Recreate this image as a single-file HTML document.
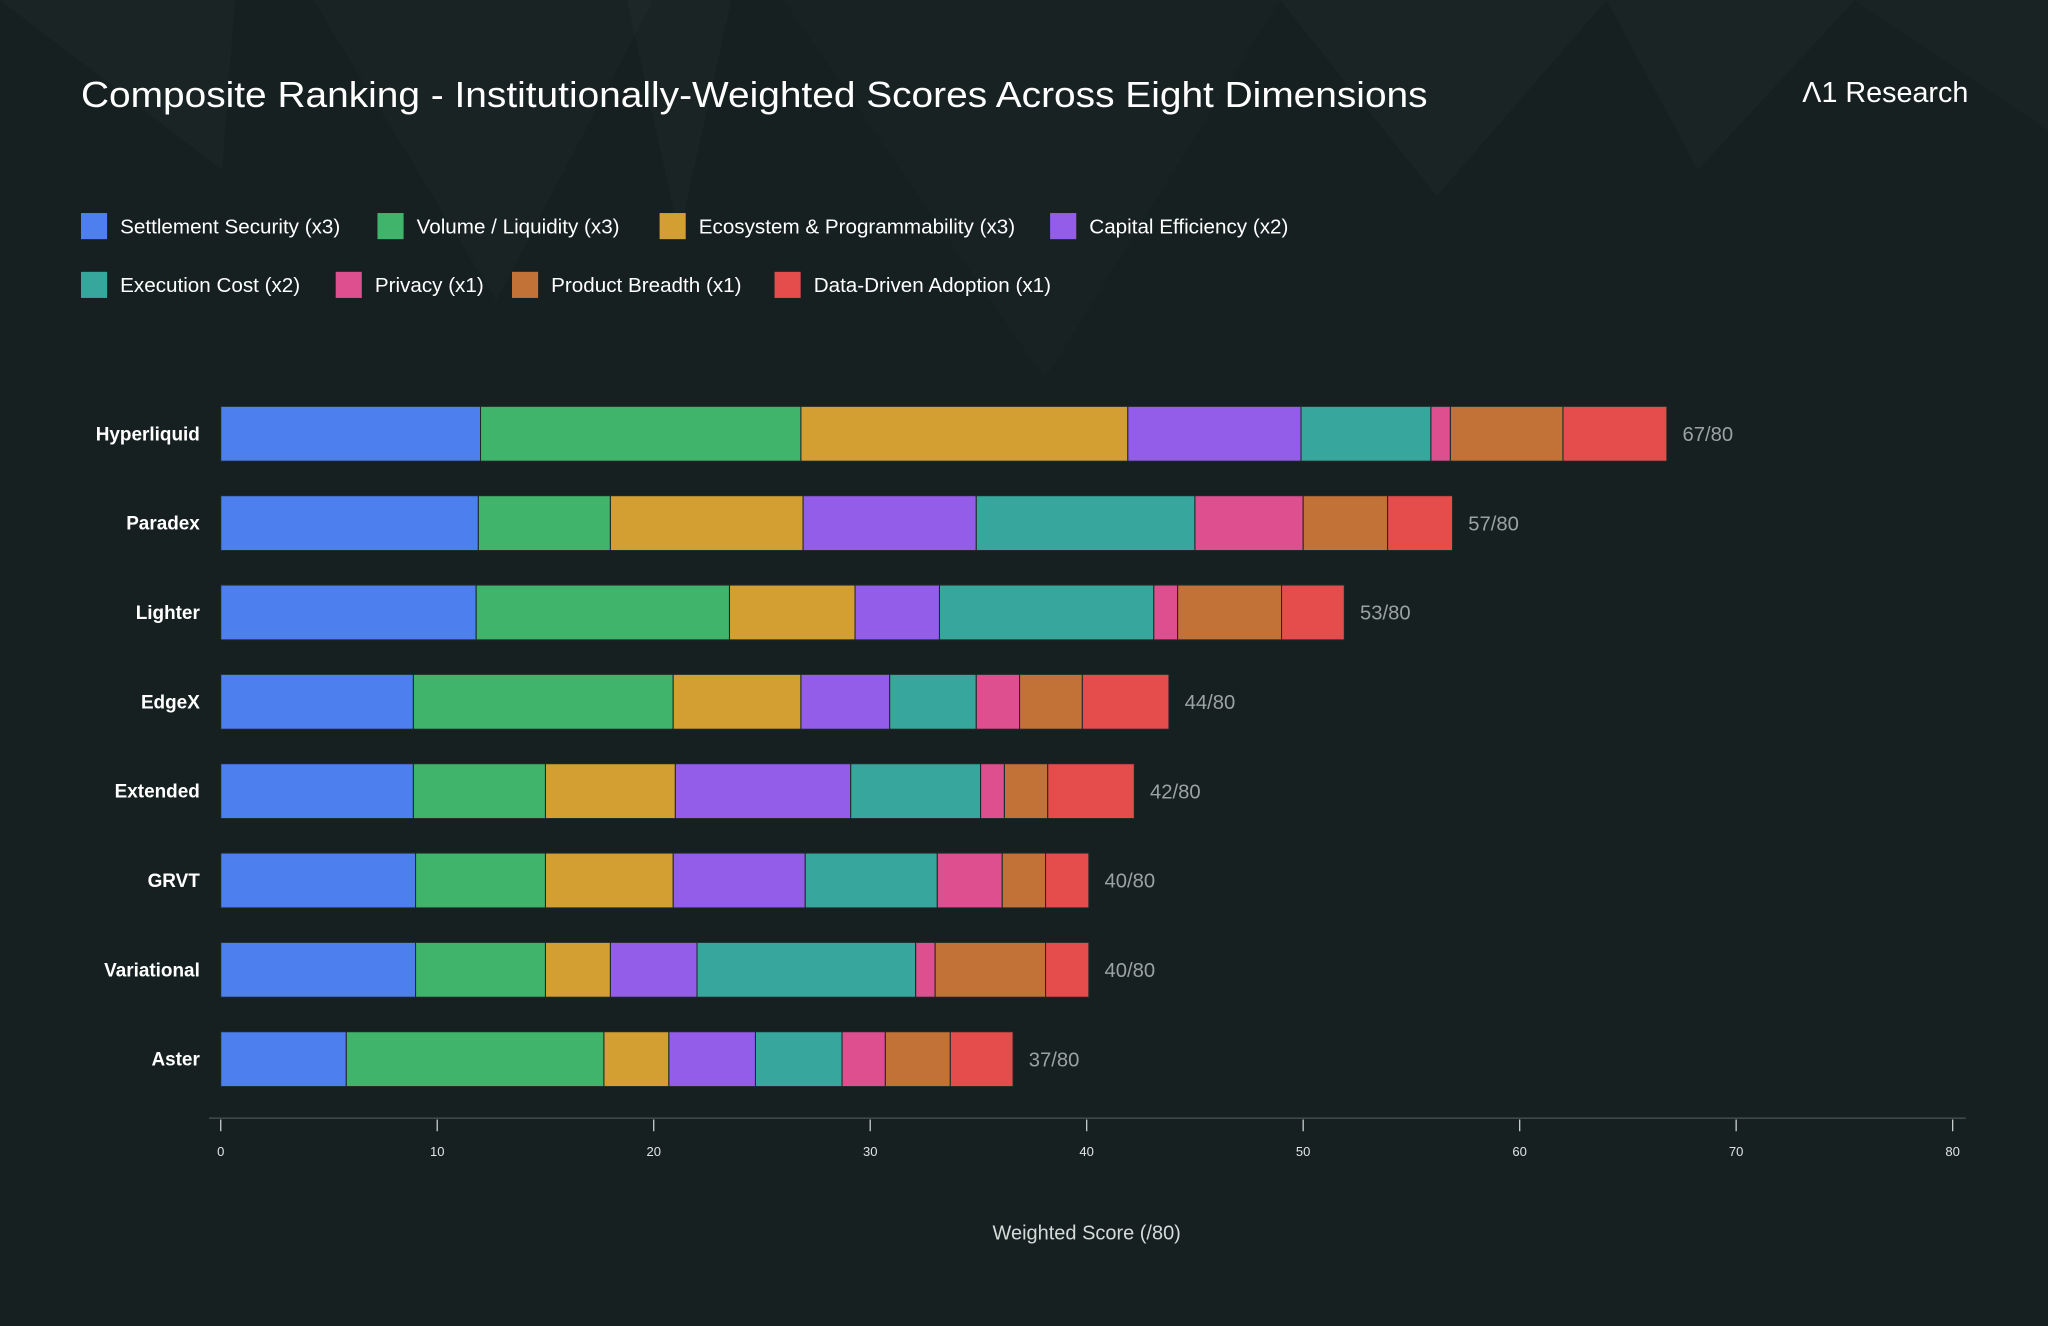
<!DOCTYPE html>
<html><head><meta charset="utf-8">
<style>
html,body{margin:0;padding:0;background:#162020;}
svg{display:block;font-family:"Liberation Sans",sans-serif;}
</style></head>
<body>
<svg id="chart" width="2048" height="1326" viewBox="0 0 1568 1015" xmlns="http://www.w3.org/2000/svg">
  <rect x="0" y="0" width="1568" height="1015" fill="#162020"/>
  <g fill="#ffffff">
    <polygon points="0,0 180,0 170,130" opacity="0.018"/>
    <polygon points="240,0 500,0 380,230" opacity="0.015"/>
    <polygon points="480,0 560,0 520,180" opacity="0.02"/>
    <polygon points="600,0 980,0 800,290" opacity="0.013"/>
    <polygon points="980,0 1230,0 1100,150" opacity="0.018"/>
    <polygon points="1230,0 1420,0 1300,130" opacity="0.02"/>
    <polygon points="1420,0 1568,0 1568,100" opacity="0.015"/>
  </g>
  <text x="62" y="82" font-size="28" fill="#ffffff" textLength="1031" lengthAdjust="spacingAndGlyphs">Composite Ranking - Institutionally-Weighted Scores Across Eight Dimensions</text>
  <text x="1507" y="78" font-size="22" fill="#ffffff" text-anchor="end">Λ1 Research</text>
  <g id="legend"></g>
  <g id="plot"></g>
</svg>
<script>
const platforms = ["Hyperliquid","Paradex","Lighter","EdgeX","Extended","GRVT","Variational","Aster"];
const seriesNames = ["Settlement Security (x3)","Volume / Liquidity (x3)","Ecosystem & Programmability (x3)","Capital Efficiency (x2)","Execution Cost (x2)","Privacy (x1)","Product Breadth (x1)","Data-Driven Adoption (x1)"];
const settlement = [12.0,11.9,11.8,8.9,8.9,9.0,9.0,5.8];
const volume = [14.8,6.1,11.7,12.0,6.1,6.0,6.0,11.9];
const ecosystem = [15.1,8.9,5.8,5.9,6.0,5.9,3.0,3.0];
const capital = [8.0,8.0,3.9,4.1,8.1,6.1,4.0,4.0];
const execution = [6.0,10.1,9.9,4.0,6.0,6.1,10.1,4.0];
const privacy = [0.9,5.0,1.1,2.0,1.1,3.0,0.9,2.0];
const breadth = [5.2,3.9,4.8,2.9,2.0,2.0,5.1,3.0];
const adoption = [4.8,3.0,2.9,4.0,4.0,2.0,2.0,2.9];
const totals = ["67/80","57/80","53/80","44/80","42/80","40/80","40/80","37/80"];
const ticks = [0,10,20,30,40,50,60,70,80];

const series = [settlement,volume,ecosystem,capital,execution,privacy,breadth,adoption];
const colors = ["#4d7fee","#41b46c","#d39e32","#945de9","#37a69c","#dd4f8f","#c27237","#e54d4d"];
const segNames = ["settlement","volume","ecosystem","capital","execution","privacy","breadth","adoption"];
const NS = "http://www.w3.org/2000/svg";
const x0 = 169, x1 = 1495, xMax = 80;
const xs = v => x0 + (x1 - x0) * v / xMax;
const yTop = 311, rowStep = 68.4, barH = 42;
const yc = i => yTop + barH/2 + i*rowStep;
function mk(tag, attrs, parent){const e=document.createElementNS(NS,tag);for(const k in attrs)e.setAttribute(k,attrs[k]);parent.appendChild(e);return e;}

const legend = document.getElementById('legend');
const legPos = [[62,173],[289,173],[505,173],[804,173],[62,218],[257,218],[392,218],[593,218]];
seriesNames.forEach((n,i)=>{
  const g = mk('g',{},legend);
  
  
  const r = mk('rect',{x:legPos[i][0],y:legPos[i][1]-10,width:20,height:20,fill:colors[i]},g);
  
  
  const t = mk('text',{x:legPos[i][0]+30,y:legPos[i][1]+5.5,'font-size':15.8,fill:'#ffffff'},g);
  
  
  t.textContent = n;
});

const plot = document.getElementById('plot');
platforms.forEach((p,i)=>{
  const lab = mk('text',{x:153,y:yc(i)+5,'font-size':14.5,'font-weight':'bold',fill:'#ffffff','text-anchor':'end'},plot);
  
  
  lab.textContent = p;
  let cum = 0;
  series.forEach((s,k)=>{
    const r = mk('rect',{x:xs(cum),y:yc(i)-barH/2,width:xs(cum+s[i])-xs(cum),height:barH,fill:colors[k],stroke:'#1d2a28','stroke-width':0.8},plot);
    
    
    cum += s[i];
  });
  const v = mk('text',{x:xs(cum)+12,y:yc(i)+5.5,'font-size':15.5,fill:'#9aa3a1'},plot);
  
  
  v.textContent = totals[i];
});

const axis = mk('line',{x1:160,x2:1505,y1:856,y2:856,stroke:'#3c4a47','stroke-width':1.2},plot);


ticks.forEach(t=>{
  const l = mk('line',{x1:xs(t),x2:xs(t),y1:857,y2:866,stroke:'#c8cfcd','stroke-width':1},plot);
  
  
  const tx = mk('text',{x:xs(t),y:885,'font-size':10,fill:'#e0e5e3','text-anchor':'middle'},plot);
  
  
  tx.textContent = t;
});
const at = mk('text',{x:832,y:949,'font-size':15.3,fill:'#d5dbd9','text-anchor':'middle'},plot);


at.textContent = 'Weighted Score (/80)';
</script>
</body></html>
